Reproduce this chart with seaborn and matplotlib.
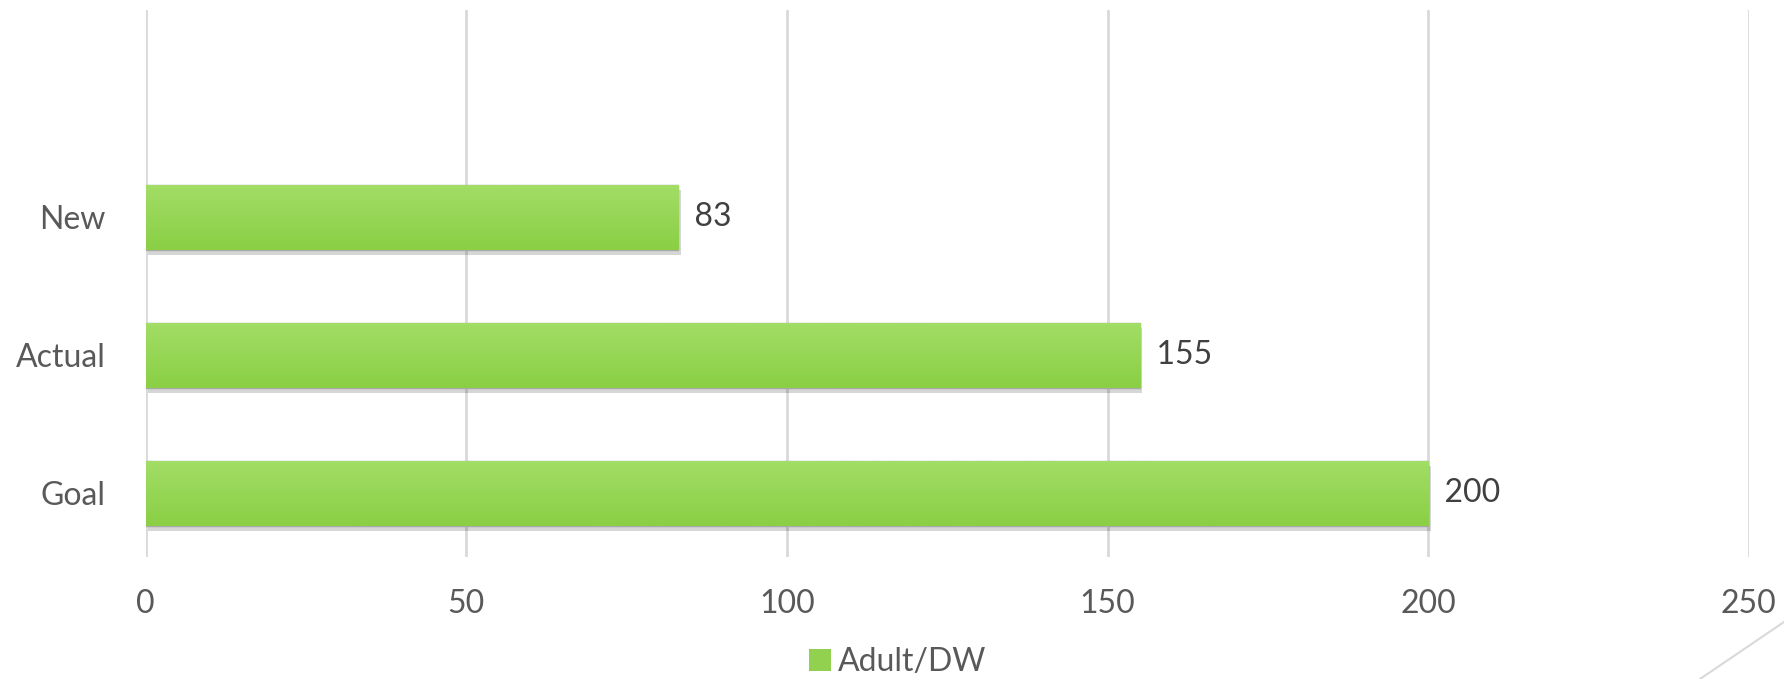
import matplotlib
matplotlib.use("Agg")
import matplotlib.pyplot as plt
import matplotlib.patheffects as pe
from matplotlib.lines import Line2D
from matplotlib.colors import LinearSegmentedColormap
import numpy as np
import seaborn as sns
import pandas as pd

categories = ["New", "Actual", "Goal"]
values = [83, 155, 200]
series_name = "Adult/DW"
x_ticks = [0, 50, 100, 150, 200, 250]

sns.set_theme(style="white")
plt.rcParams['font.family'] = ['Lato', 'DejaVu Sans']

df = pd.DataFrame({"category": categories, "value": values})

fig = plt.figure(figsize=(17.84, 6.79), dpi=100)
ax = fig.add_axes([0.0816, 0.179, 0.9803 - 0.0816, 0.9853 - 0.179])

sns.barplot(data=df, x="value", y="category", orient="h", color="#92D050",
            width=0.47, saturation=1, ax=ax, label=series_name,
            edgecolor="#a8a8a8", linewidth=1.0)

ax.set_xlim(0, 250)
ax.set_ylim(2.464, -1.5)

grad_cmap = LinearSegmentedColormap.from_list("g", ["#A2DD66", "#8ACF44"])
grad = np.linspace(0, 1, 64).reshape(-1, 1)
for p in list(ax.patches):
    p.set_path_effects([pe.SimplePatchShadow(offset=(2, -4), shadow_rgbFace="#000000", alpha=0.16),
                        pe.Normal()])
    x0, y0 = p.get_x(), p.get_y()
    w, h = p.get_width(), p.get_height()
    im = ax.imshow(grad, cmap=grad_cmap, aspect="auto",
                   extent=(x0, x0 + w, y0 + h, y0), origin="upper", zorder=p.get_zorder() + 0.1)
    im.set_clip_path(p)

ax.set_xlim(0, 250)
ax.set_ylim(2.464, -1.5)

for i, v in enumerate(values):
    ax.text(v, i, f"  {v}", va="center", ha="left", fontsize=23, color="#404040")

ax.set_xticks(x_ticks)
ax.set_xticklabels([str(t) for t in x_ticks])
ax.grid(axis="x", color="#D9D9D9", linewidth=2)
ax.grid(axis="y", visible=False)
ax.set_axisbelow(True)
for s in ax.spines.values():
    s.set_visible(False)
ax.tick_params(axis="both", length=0, labelsize=23, labelcolor="#595959")
ax.tick_params(axis="y", pad=29)
ax.tick_params(axis="x", pad=23)
ax.set_xlabel("")
ax.set_ylabel("")
if ax.get_legend() is not None:
    ax.get_legend().remove()

handles = [plt.Rectangle((0, 0), 1, 1, facecolor="#92D050", edgecolor="none")]
fig.legend(handles, [series_name], loc="center", bbox_to_anchor=(0.503, 1 - 662 / 679),
           frameon=False, fontsize=23, labelcolor="#595959", handlelength=0.7,
           handleheight=0.7, handletextpad=0.2)

fig.add_artist(Line2D([1700 / 1784, 1.0], [0.0, 1 - 622 / 679], transform=fig.transFigure,
                      color="#D9D9D9", linewidth=1.5))

fig.savefig("out.png", dpi=100)
